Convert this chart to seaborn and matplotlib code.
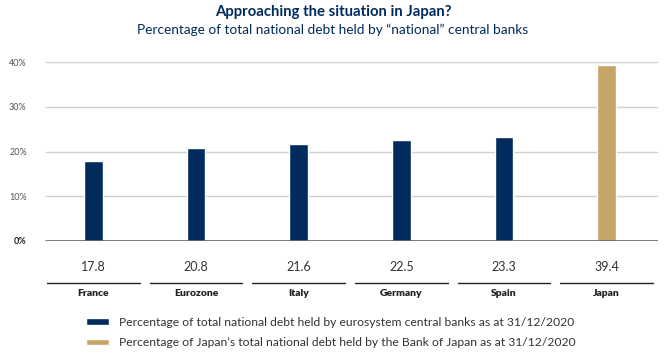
import matplotlib
matplotlib.use("Agg")
import matplotlib.pyplot as plt
import matplotlib.transforms as mtransforms
import seaborn as sns
import pandas as pd

countries = ["France", "Eurozone", "Italy", "Germany", "Spain", "Japan"]
values = [17.8, 20.8, 21.6, 22.5, 23.3, 39.4]
series = ["Percentage of total national debt held by eurosystem central banks as at 31/12/2020"] * 5 + \
         ["Percentage of Japan\u2019s total national debt held by the Bank of Japan as at 31/12/2020"]
yticks = [0, 10, 20, 30, 40]
ytick_labels = ["0%", "10%", "20%", "30%", "40%"]

NAVY = "#002B5C"
GOLD = "#C6A466"
TEXT = "#333333"

sns.set_theme(style="white")
plt.rcParams["font.family"] = ["Lato", "DejaVu Sans"]

df = pd.DataFrame({"country": countries, "value": values, "series": series})

fig = plt.figure(figsize=(6.66, 3.61), dpi=100)
ax = fig.add_axes([42 / 666, (361 - 241) / 361, (658 - 42) / 666, (241 - 62) / 361])

sns.barplot(data=df, x="country", y="value", hue="series", dodge=False,
            palette=[NAVY, GOLD], width=0.185, ax=ax, saturation=1)

ax.set_ylim(0, 40)
ax.set_xlim(-0.5, len(countries) - 0.5)
ax.set_xlabel("")
ax.set_ylabel("")
ax.set_xticks([])
for s in ax.spines.values():
    s.set_visible(False)

for t in yticks[1:]:
    ax.axhline(t, xmin=0.006, xmax=1, color="#D0D0D0", lw=1.0, zorder=0)
ax.axhline(0, xmin=0.006, xmax=1, color="#666666", lw=1.2, zorder=3)

ax.set_yticks(yticks)
ax.set_yticklabels(ytick_labels)
ax.tick_params(axis="y", length=0, pad=11, labelsize=6.5, labelcolor="#555555")
lbl0 = ax.get_yticklabels()[0]
lbl0.set_fontweight("bold")
lbl0.set_color("#222222")

trans = mtransforms.blended_transform_factory(ax.transData, fig.transFigure)
for i, (c, v) in enumerate(zip(countries, values)):
    ax.text(i, 1 - 267 / 361, f"{v:.1f}", transform=trans, ha="center", va="center",
            fontsize=9, color=TEXT)
    ax.plot([i - 0.45, i + 0.45], [1 - 283 / 361] * 2, transform=trans, color="#222222",
            lw=1.0, clip_on=False)
    ax.text(i, 1 - 294 / 361, c, transform=trans, ha="center", va="center",
            fontsize=7.5, fontweight="heavy", color="#222222")

handles, labels = ax.get_legend_handles_labels()
if ax.get_legend() is not None:
    ax.get_legend().remove()
fig.legend(handles, labels, loc="upper left", bbox_to_anchor=(86 / 666, 1 - 317 / 361),
           frameon=False, fontsize=8.7, labelcolor=TEXT, handlelength=1.9, handleheight=0.45,
           handletextpad=0.8, labelspacing=0.75, borderaxespad=0, borderpad=0)

fig.text(0.5, 1 - 12 / 361, "Approaching the situation in Japan?", ha="center", va="center",
         fontsize=10.7, fontweight="bold", color=NAVY)
fig.text(0.5, 1 - 30 / 361, "Percentage of total national debt held by \u201cnational\u201d central banks",
         ha="center", va="center", fontsize=9.8, color=NAVY)

fig.savefig("out.png", dpi=100)
